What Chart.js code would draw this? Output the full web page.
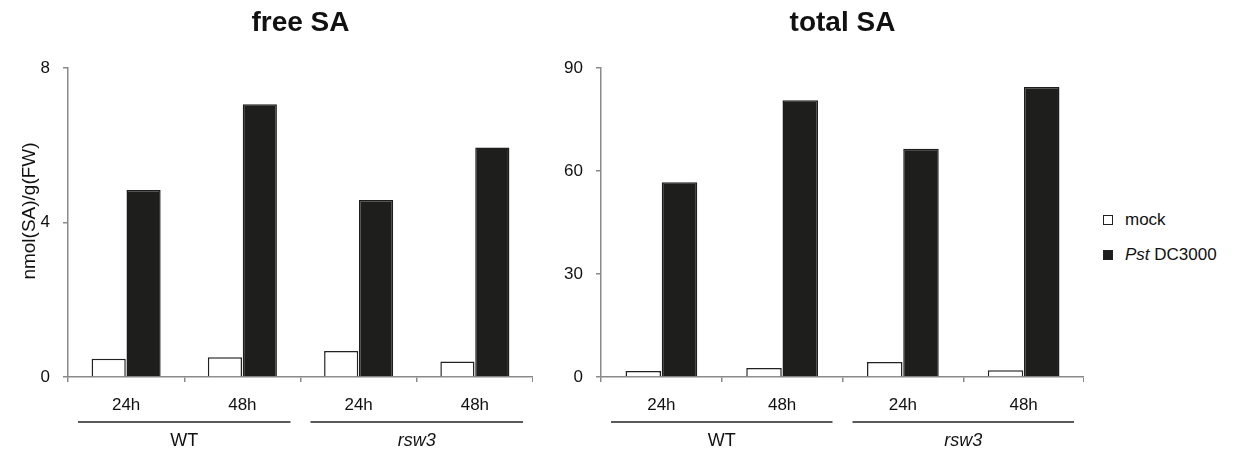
<!DOCTYPE html>
<html>
<head>
<meta charset="utf-8">
<script src="https://cdn.jsdelivr.net/npm/chart.js@4.4.0/dist/chart.umd.min.js"></script>
<style>
  body { margin: 0; background: #fff; width: 1238px; height: 453px; overflow: hidden; position: relative; font-family: "Liberation Sans", Arial, sans-serif; }
  #c1 { position: absolute; left: 0; top: 0; }
  #c2 { position: absolute; left: 540px; top: 0; }
  #legend { position: absolute; left: 1103px; top: 202px; font-size: 17px; color: #111; }
  .row { height: 35px; display: flex; align-items: center; white-space: nowrap; }
  .box { width: 8px; height: 8px; border: 1.5px solid #222; margin-right: 12px; }
</style>
</head>
<body>
<canvas id="c1" width="533" height="453"></canvas>
<canvas id="c2" width="544" height="453"></canvas>
<div id="legend"></div>
<script>
const categories = ['24h', '48h', '24h', '48h']
const groups = ['WT', 'rsw3']
const groupItalic = [false, true]
const seriesNames = ['mock', 'Pst DC3000']

const freeMock = [0.47, 0.51, 0.67, 0.40]
const freePst = [4.84, 7.06, 4.58, 5.94]
const totalMock = [1.75, 2.6, 4.4, 2.0]
const totalPst = [56.7, 80.6, 66.5, 84.5]

const freeTicks = [0, 4, 8]
const totalTicks = [0, 30, 60, 90]

const FONT = '"Liberation Sans", Arial, sans-serif'
const AXIS = '#8a8a8a'

// lines + genotype labels under the time labels, title over the plot
const extrasPlugin = {
  id: 'extras',
  afterDraw(chart, args, opts) {
    const x = chart.scales.x
    const area = chart.chartArea
    const ctx = chart.ctx
    const half = (x.getPixelForValue(1) - x.getPixelForValue(0)) / 2
    ctx.save()
    ctx.textAlign = 'center'
    ctx.textBaseline = 'middle'
    for (let g = 0; g < groups.length; g++) {
      let a = x.getPixelForValue(g * 2) - half
      let b = x.getPixelForValue(g * 2 + 1) + half
      ctx.strokeStyle = '#5a5a5a'
      ctx.lineWidth = 2
      ctx.beginPath()
      ctx.moveTo(a + 10, area.bottom + 45)
      ctx.lineTo(b - 10, area.bottom + 45)
      ctx.stroke()
      ctx.fillStyle = '#111'
      ctx.font = (groupItalic[g] ? 'italic ' : '') + '18px ' + FONT
      ctx.fillText(groups[g], (a + b) / 2, area.bottom + 64)
    }
    ctx.fillStyle = '#111'
    ctx.font = 'bold 28px ' + FONT
    ctx.fillText(opts.title, (area.left + area.right) / 2, 23)
    if (opts.yTitle) {
      ctx.translate(30, 211)
      ctx.rotate(-Math.PI / 2)
      ctx.font = '19px ' + FONT
      ctx.fillText(opts.yTitle, 0, 0)
    }
    ctx.restore()
  }
}

function makeChart(id, title, yTitle, mock, pst, ticks, yWidth) {
  let ctx = document.getElementById(id).getContext('2d')
  return new Chart(ctx, {
    type: 'bar',
    data: {
      labels: categories,
      datasets: [
        { label: seriesNames[0], data: mock, backgroundColor: '#ffffff', borderColor: '#222', borderWidth: 1.5 },
        { label: seriesNames[1], data: pst, backgroundColor: '#1e1e1c', borderColor: '#1e1e1c', borderWidth: 1.5 }
      ]
    },
    options: {
      responsive: false,
      animation: false,
      layout: { padding: { left: 0, right: 0, top: 68, bottom: 0 } },
      datasets: { bar: { categoryPercentage: 0.6, barPercentage: 0.98 } },
      plugins: {
        legend: { display: false },
        tooltip: { enabled: false },
        extras: { title: title, yTitle: yTitle }
      },
      scales: {
        x: {
          afterFit: (s) => { s.height = 76 },
          border: { color: AXIS, width: 1.5 },
          grid: { drawOnChartArea: false, tickLength: 5, color: AXIS, lineWidth: 1.5 },
          ticks: { color: '#111', padding: 13, font: { family: FONT, size: 17 } }
        },
        y: {
          min: 0,
          max: ticks[ticks.length - 1],
          afterFit: (s) => { s.width = yWidth },
          afterBuildTicks: (s) => { s.ticks = ticks.map(v => ({ value: v })) },
          border: { color: AXIS, width: 1.5 },
          grid: { drawOnChartArea: false, tickLength: 5, color: AXIS, lineWidth: 1.5 },
          ticks: { color: '#111', padding: 13, font: { family: FONT, size: 17 } }
        }
      }
    },
    plugins: [extrasPlugin]
  })
}

let freeChart = makeChart('c1', 'free SA', 'nmol(SA)/g(FW)', freeMock, freePst, freeTicks, 68)
let totalChart = makeChart('c2', 'total SA', '', totalMock, totalPst, totalTicks, 61)

// html legend so "Pst" can be italic
let legend = document.getElementById('legend')
totalChart.data.datasets.forEach((ds) => {
  let name = ds.label
  if (name.indexOf('Pst') === 0) name = '<i>Pst</i>' + name.slice(3)
  legend.innerHTML += `<div class="row"><div class="box" style="background:${ds.backgroundColor}"></div><span>${name}</span></div>`
})
</script>
</body>
</html>
